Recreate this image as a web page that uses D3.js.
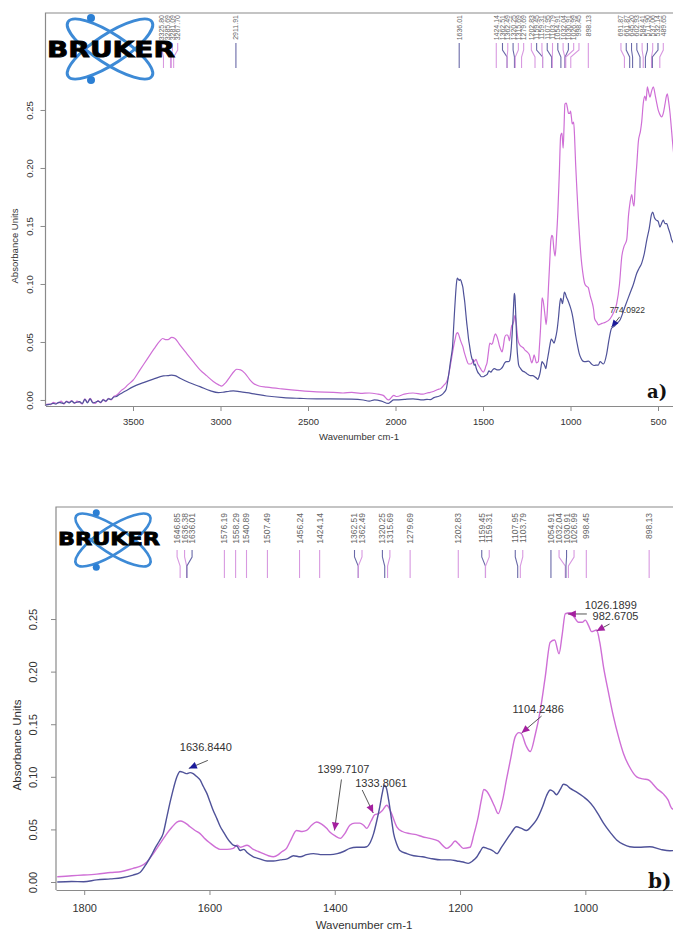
<!DOCTYPE html>
<html>
<head>
<meta charset="utf-8">
<script src="https://cdn.jsdelivr.net/npm/d3@7"></script>
<style>
  body { margin: 0; background: #fff; }
  svg { display: block; font-family: 'Liberation Sans', Arial, sans-serif; }
</style>
</head>
<body>
<div id="chart"></div>
<script>
// Spectrum data: [wavenumber cm-1, absorbance]
const pinkSpectrum = [
  [4000,-0.004],[3985,-0.0035],[3970,-0.004],[3955,-0.002],[3940,-0.003],[3925,-0.0025],[3910,-0.001],
  [3895,-0.0035],[3880,-0.001],[3865,-0.002],[3850,-0.0005],[3835,-0.003],[3820,-0.001],[3805,-0.002],
  [3790,-0.0035],[3775,0.001],[3760,-0.002],[3745,0.0015],[3730,-0.002],[3715,-0.003],[3700,-0.0005],
  [3685,-0.0025],[3670,0.0005],[3655,-0.0015],[3640,0.0015],[3625,0.000],[3610,0.003],[3595,0.004],
  [3580,0.006],[3565,0.0085],[3550,0.010],[3530,0.013],[3500,0.017],[3460,0.026],[3420,0.035],
  [3380,0.044],[3346,0.051],[3330,0.053],[3315,0.052],[3300,0.052],[3279,0.054],[3260,0.053],
  [3230,0.047],[3193,0.040],[3150,0.032],[3117,0.026],[3080,0.021],[3041,0.016],[3010,0.013],
  [2993,0.012],[2970,0.015],[2946,0.020],[2920,0.025],[2907,0.0265],[2885,0.026],[2860,0.023],
  [2835,0.018],[2813,0.0144],[2780,0.012],[2736,0.011],[2650,0.0095],[2546,0.008],[2450,0.007],
  [2355,0.0066],[2300,0.006],[2250,0.0065],[2200,0.0057],[2150,0.006],[2100,0.005],[2070,0.004],
  [2041,0.000],[2030,0.001],[2010,0.004],[1993,0.003],[1950,0.005],[1900,0.006],
  [1843,0.005],[1820,0.006],[1801,0.0066],[1780,0.0075],[1758,0.009],[1740,0.010],[1722,0.013],
  [1710,0.015],[1700,0.019],[1692,0.025],[1684,0.032],[1676,0.039],[1668,0.046],[1660,0.052],
  [1652,0.057],[1646,0.058],[1641,0.057],[1636,0.055],[1631,0.0525],[1623,0.049],[1615,0.046],
  [1607,0.041],[1599,0.037],[1590,0.033],[1583,0.031],[1572,0.031],[1562,0.032],[1556,0.035],
  [1550,0.033],[1540,0.035],[1530,0.031],[1522,0.029],[1514,0.027],[1506,0.025],[1498,0.024],
  [1490,0.026],[1484,0.029],[1477,0.032],[1470,0.040],[1461,0.049],[1452,0.048],[1445,0.049],
  [1437,0.054],[1429,0.057],[1421,0.055],[1413,0.051],[1407,0.047],[1400,0.044],[1391,0.0415],
  [1384,0.046],[1376,0.054],[1368,0.056],[1360,0.056],[1354,0.054],[1349,0.051],[1342,0.058],
  [1336,0.064],[1330,0.065],[1324,0.068],[1317,0.073],[1310,0.066],[1301,0.0525],[1292,0.048],
  [1280,0.046],[1270,0.045],[1260,0.043],[1248,0.0415],[1235,0.039],[1221,0.032],[1214,0.035],
  [1208,0.039],[1202,0.036],[1195,0.032],[1184,0.033],[1178,0.045],[1171,0.062],[1166,0.078],
  [1162,0.088],[1157,0.086],[1152,0.081],[1145,0.072],[1139,0.065],[1132,0.078],[1126,0.097],
  [1119,0.118],[1112,0.138],[1106,0.142],[1102,0.141],[1095,0.130],[1088,0.124],[1080,0.140],
  [1072,0.163],[1064,0.195],[1056,0.228],[1049,0.230],[1042,0.217],[1037,0.235],[1032,0.255],
  [1024,0.256],[1018,0.252],[1011,0.247],[1005,0.247],[1000,0.249],[995,0.244],[990,0.238],
  [982,0.2395],[977,0.228],[971,0.2045],[963,0.180],[955,0.157],[947,0.138],[939,0.122],
  [930,0.110],[918,0.100],[908,0.098],[899,0.097],[892,0.093],[886,0.089],[876,0.084],
  [868,0.078],[862,0.070],[850,0.067],[841,0.0647],[820,0.066],[800,0.067],[774,0.070],
  [755,0.075],[736,0.083],[720,0.100],[707,0.1235],[695,0.132],[679,0.138],[668,0.160],
  [660,0.170],[650,0.177],[643,0.170],[637,0.167],[630,0.185],[622,0.201],[612,0.223],
  [600,0.232],[593,0.240],[584,0.256],[575,0.262],[568,0.258],[561,0.270],[553,0.265],
  [546,0.261],[537,0.266],[527,0.270],[515,0.262],[506,0.255],[499,0.250],[489,0.246],
  [479,0.244],[470,0.247],[460,0.255],[452,0.262],[447,0.264],[440,0.258],[431,0.247],
  [424,0.235],[416,0.221],[405,0.205]
];

const blueSpectrum = [
  [4000,-0.0045],[3985,-0.004],[3970,-0.0035],[3955,-0.003],[3940,-0.0035],[3925,-0.002],[3910,-0.0025],
  [3895,-0.003],[3880,-0.0015],[3865,-0.0025],[3850,-0.001],[3835,-0.0025],[3820,-0.002],[3805,-0.0015],
  [3790,-0.003],[3775,0.0005],[3760,-0.0025],[3745,0.001],[3730,-0.0025],[3715,-0.002],[3700,-0.001],
  [3685,-0.002],[3670,0.000],[3655,-0.001],[3640,0.001],[3625,0.0005],[3610,0.0025],[3595,0.003],
  [3580,0.0045],[3565,0.0058],[3540,0.008],[3498,0.0115],[3440,0.015],[3384,0.018],[3327,0.0207],
  [3300,0.021],[3279,0.0215],[3260,0.021],[3231,0.0187],[3180,0.015],[3117,0.0115],[3060,0.008],
  [3012,0.0063],[2980,0.0068],[2950,0.0075],[2927,0.0078],[2890,0.0072],[2850,0.0063],[2800,0.005],
  [2736,0.0034],[2640,0.002],[2546,0.0014],[2450,0.001],[2374,0.001],[2250,0.0008],[2184,0.000],
  [2150,-0.001],[2120,0.000],[2080,-0.001],[2041,-0.003],[2030,-0.002],[2010,0.000],[1993,0.000],
  [1950,0.0005],[1900,0.001],
  [1843,0.000],[1820,0.0005],[1801,0.0003],[1780,0.002],[1758,0.003],[1740,0.004],[1722,0.0066],
  [1711,0.009],[1700,0.018],[1693,0.025],[1687,0.032],[1680,0.039],[1674,0.046],[1668,0.062],
  [1662,0.078],[1657,0.090],[1652,0.100],[1647,0.105],[1641,0.104],[1636,0.103],[1631,0.104],
  [1626,0.103],[1620,0.100],[1615,0.097],[1610,0.091],[1604,0.084],[1599,0.076],[1594,0.068],
  [1588,0.060],[1583,0.053],[1577,0.047],[1572,0.042],[1567,0.038],[1562,0.035],[1556,0.034],
  [1551,0.030],[1545,0.031],[1540,0.028],[1530,0.024],[1520,0.022],[1508,0.020],[1498,0.020],
  [1487,0.021],[1476,0.022],[1466,0.025],[1455,0.024],[1445,0.026],[1434,0.027],[1420,0.026],
  [1407,0.026],[1396,0.027],[1386,0.029],[1376,0.032],[1365,0.033],[1356,0.033],[1349,0.0335],
  [1343,0.038],[1338,0.046],[1333,0.058],[1328,0.072],[1324,0.085],[1321,0.092],[1318,0.090],
  [1314,0.078],[1310,0.062],[1306,0.046],[1301,0.036],[1296,0.030],[1285,0.027],[1274,0.025],
  [1260,0.024],[1248,0.0225],[1230,0.021],[1215,0.021],[1205,0.020],[1195,0.019],[1187,0.0177],
  [1180,0.020],[1173,0.024],[1168,0.029],[1163,0.033],[1157,0.032],[1152,0.031],[1146,0.029],
  [1141,0.027],[1134,0.033],[1126,0.040],[1118,0.047],[1110,0.0525],[1102,0.051],[1094,0.049],
  [1086,0.053],[1078,0.059],[1068,0.072],[1062,0.082],[1056,0.0875],[1051,0.086],[1046,0.083],
  [1040,0.088],[1035,0.093],[1030,0.092],[1024,0.089],[1015,0.086],[1003,0.081],[995,0.077],
  [987,0.0715],[979,0.064],[971,0.056],[960,0.047],[950,0.040],[940,0.036],[929,0.0335],
  [915,0.033],[897,0.0335],[880,0.031],[865,0.0297],[855,0.030],[841,0.030],[831,0.033],
  [812,0.031],[793,0.040],[780,0.052],[765,0.062],[755,0.063],[735,0.066],[717,0.069],
  [690,0.080],[660,0.092],[640,0.100],[622,0.109],[610,0.113],[593,0.118],[580,0.125],
  [564,0.138],[550,0.148],[537,0.160],[530,0.162],[520,0.157],[510,0.155],[499,0.154],
  [489,0.149],[480,0.152],[470,0.155],[460,0.152],[450,0.152],[441,0.148],[430,0.143],
  [422,0.138],[414,0.136],[405,0.132]
];

// Axis ticks
const xTicksA = [3500, 3000, 2500, 2000, 1500, 1000, 500];
const xTicksB = [1800, 1600, 1400, 1200, 1000];
const yTicks = [0, 0.05, 0.10, 0.15, 0.20, 0.25];

// Peak picks: [wavenumber, series]
const peaksA = [
  [3325.80,'p'],[3285.69,'p'],[3281.09,'p'],[3267.70,'p'],[2911.91,'b'],[1636.01,'b'],[1424.14,'p'],
  [1362.51,'b'],[1362.49,'p'],[1320.25,'b'],[1315.69,'p'],[1279.69,'p'],[1202.83,'p'],[1159.45,'b'],
  [1159.31,'p'],[1107.95,'b'],[1103.79,'p'],[1054.91,'b'],[1032.04,'p'],[1030.91,'b'],[1026.99,'p'],
  [998.45,'p'],[898.13,'p'],
  [691.87,'p'],[661.87,'b'],[645.20,'b'],[602.93,'b'],[584.41,'p'],[571.90,'b'],[537.06,'p'],
  [532.14,'b'],[489.65,'p']
];
const peaksB = [
  [1646.85,'p'],[1636.38,'p'],[1636.01,'b'],[1576.19,'p'],[1558.29,'p'],[1540.89,'p'],[1507.49,'p'],
  [1456.24,'p'],[1424.14,'p'],[1362.51,'b'],[1362.49,'p'],[1320.25,'b'],[1315.69,'p'],[1279.69,'p'],
  [1202.83,'p'],[1159.45,'b'],[1159.31,'p'],[1107.95,'b'],[1103.79,'p'],[1054.91,'b'],[1032.04,'p'],
  [1030.91,'b'],[1026.99,'p'],[998.45,'p'],[898.13,'p']
];

// Annotated points: [label, wavenumber, absorbance, series]
const notesA = [['774.0922', 765, 0.063, 'b']];
const notesB = [
  ['1636.8440', 1633, 0.108, 'b'],
  ['1399.7107', 1400.5, 0.049, 'p'],
  ['1333.8061', 1338.6, 0.0656, 'p'],
  ['1104.2486', 1101.8, 0.1416, 'p'],
  ['1026.1899', 1027.9, 0.2548, 'p'],
  ['982.6705', 982.1, 0.2386, 'p']
];

// Where each annotation label sits relative to its arrow tip: text start, line start
const noteLayout = {
  '774.0922':  { tx: -2, ty: -14, lx: 8, ly: -10 },
  '1636.8440': { tx: -9, ty: -17, lx: 19, ly: -8 },
  '1399.7107': { tx: -17, ty: -57, lx: 7, ly: -51 },
  '1333.8061': { tx: -18, ty: -26, lx: -11, ly: -23 },
  '1104.2486': { tx: -9, ty: -20, lx: 20, ly: -17 },
  '1026.1899': { tx: 17, ty: -5, lx: 19, ly: 0 },
  '982.6705':  { tx: -4, ty: -11, lx: 13, ly: -7 }
};

const colors = { p: '#cf6fd6', b: '#4f5299' };
const arrowColors = { p: '#a4209f', b: '#1c1c9a' };
const peakLineColors = { p: '#d899e0', b: '#6a6aa8' };

const W = 673, H = 935;
const svg = d3.select('#chart').append('svg').attr('width', W).attr('height', H);

function spread(xs, gap) {
  const p = xs.slice();
  for (let it = 0; it < 300; it++) {
    let moved = false;
    for (let i = 1; i < p.length; i++) {
      const d = p[i] - p[i - 1];
      if (d < gap - 0.01) {
        const s = (gap - d) / 2;
        p[i - 1] -= s; p[i] += s; moved = true;
      }
    }
    if (!moved) break;
  }
  return p;
}

function drawLogo(g, cx, cy, s, fontSize, textX, textY, textLen) {
  const logo = g.append('g');
  [33, -33].forEach(a => {
    logo.append('ellipse')
      .attr('cx', cx).attr('cy', cy).attr('rx', 50 * s).attr('ry', 15 * s)
      .attr('transform', `rotate(${a},${cx},${cy})`)
      .attr('fill', 'none').attr('stroke', '#3d8ad6').attr('stroke-width', 3 * s);
  });
  [-1, 1].forEach(k => {
    logo.append('circle')
      .attr('cx', cx - 19 * s).attr('cy', cy + k * 31 * s).attr('r', 4 * s)
      .attr('fill', '#2b7fd4');
  });
  logo.append('text')
    .attr('x', textX).attr('y', textY)
    .style('font-family', "'DejaVu Sans', sans-serif")
    .style('font-weight', 'bold').style('font-size', fontSize + 'px')
    .attr('textLength', textLen).attr('lengthAdjust', 'spacingAndGlyphs')
    .attr('stroke', '#000').attr('stroke-width', 0.8)
    .attr('fill', '#000').text('BRUKER');
}

function drawPanel(cfg) {
  const g = svg.append('g');
  const x = d3.scaleLinear().domain(cfg.xDomain).range(cfg.xRange);
  const y = d3.scaleLinear().domain(cfg.yDomain).range(cfg.yRange);
  const left = cfg.xRange[0], top = cfg.yRange[1], bottom = cfg.yRange[0];

  const clipId = 'clip-' + cfg.id;
  svg.append('defs').append('clipPath').attr('id', clipId)
    .append('rect').attr('x', left).attr('y', top)
    .attr('width', W - left + 10).attr('height', bottom - top);

  // Frame (top + left; bottom comes from the axis)
  g.append('path')
    .attr('d', `M${W + 5},${top}H${left}V${bottom}`)
    .attr('fill', 'none').attr('stroke', '#8a8a8a').attr('stroke-width', 1.2);

  // X axis
  const xAxis = g.append('g').attr('transform', `translate(0,${bottom})`)
    .call(d3.axisBottom(x).tickValues(cfg.xTicks).tickFormat(d3.format('d'))
      .tickSize(5).tickSizeOuter(0).tickPadding(cfg.xPad));
  xAxis.select('.domain').attr('stroke', '#8a8a8a').attr('stroke-width', 1.2);
  xAxis.selectAll('.tick line').attr('stroke', '#8a8a8a');
  xAxis.selectAll('.tick text').attr('fill', '#333').attr('font-size', cfg.tickFont)
    .attr('font-family', "'Liberation Sans', Arial, sans-serif");

  // Y axis with rotated labels
  const yAxis = g.append('g').attr('transform', `translate(${left},0)`)
    .call(d3.axisLeft(y).tickValues(yTicks).tickFormat(d3.format('.2f')).tickSize(5).tickSizeOuter(0));
  yAxis.select('.domain').remove();
  yAxis.selectAll('.tick line').attr('stroke', '#8a8a8a');
  yAxis.selectAll('.tick text')
    .attr('x', 0).attr('dy', 0).attr('text-anchor', 'middle')
    .attr('transform', `translate(${-cfg.yPad},0) rotate(-90)`)
    .attr('fill', '#333').attr('font-size', cfg.tickFont)
    .attr('font-family', "'Liberation Sans', Arial, sans-serif");

  // Axis titles
  g.append('text')
    .attr('x', cfg.xTitle[0]).attr('y', cfg.xTitle[1])
    .attr('text-anchor', 'middle').attr('font-size', cfg.titleFont).attr('fill', '#333')
    .text('Wavenumber cm-1');
  g.append('text')
    .attr('transform', `translate(${cfg.yTitle[0]},${cfg.yTitle[1]}) rotate(-90)`)
    .attr('text-anchor', 'middle').attr('font-size', cfg.titleFont).attr('fill', '#333')
    .text('Absorbance Units');

  // Spectra
  const plot = g.append('g').attr('clip-path', `url(#${clipId})`);
  const line = d3.line().x(d => x(d[0])).y(d => y(d[1])).curve(d3.curveMonotoneX);
  const inRange = d => d[0] <= cfg.xDomain[0] + 5 && d[0] >= cfg.xDomain[1] - 20;
  [['p', pinkSpectrum], ['b', blueSpectrum]].forEach(([k, data]) => {
    plot.append('path')
      .datum(data.filter(inRange))
      .attr('d', line)
      .attr('fill', 'none').attr('stroke', colors[k]).attr('stroke-width', cfg.lineWidth);
  });

  // Peak pick labels along the top
  const px = cfg.peaks.map(p => x(p[0]));
  const tx = spread(px, cfg.peakGap);
  const [yText, y0, y1, y2, y3] = cfg.peakY;
  const peakG = g.append('g').attr('clip-path', `url(#${clipId})`);
  cfg.peaks.forEach((p, i) => {
    peakG.append('path')
      .attr('d', d3.line()([[tx[i], y0], [tx[i], y1], [px[i], y2], [px[i], y3]]))
      .attr('fill', 'none').attr('stroke', peakLineColors[p[1]]).attr('stroke-width', 1.1);
    peakG.append('text')
      .attr('transform', `translate(${tx[i] + cfg.peakFont * 0.35},${yText}) rotate(-90)`)
      .attr('text-anchor', 'end').attr('font-size', cfg.peakFont).attr('fill', '#666')
      .text(p[0].toFixed(2));
  });

  drawLogo(g, ...cfg.logo);

  // Annotated peaks with arrows
  cfg.notes.forEach(([label, wn, val, k]) => {
    const lay = noteLayout[label];
    const ax = x(wn), ay = y(val);
    const sx = ax + lay.lx, sy = ay + lay.ly;
    g.append('line').attr('x1', sx).attr('y1', sy).attr('x2', ax).attr('y2', ay)
      .attr('stroke', '#444').attr('stroke-width', 0.9);
    const ang = Math.atan2(ay - sy, ax - sx);
    const L = cfg.arrow, Wd = cfg.arrow * 0.45;
    const tri = [
      [ax, ay],
      [ax - L * Math.cos(ang) + Wd * Math.sin(ang), ay - L * Math.sin(ang) - Wd * Math.cos(ang)],
      [ax - L * Math.cos(ang) - Wd * Math.sin(ang), ay - L * Math.sin(ang) + Wd * Math.cos(ang)]
    ];
    g.append('path').attr('d', d3.line()(tri) + 'Z').attr('fill', arrowColors[k]);
    g.append('text').attr('x', ax + lay.tx).attr('y', ay + lay.ty)
      .attr('font-size', cfg.noteFont).attr('fill', '#333').text(label);
  });

  // Panel letter
  g.append('text')
    .attr('x', cfg.letter[0]).attr('y', cfg.letter[1])
    .style('font-family', "'DejaVu Serif', 'Liberation Serif', serif")
    .style('font-weight', 'bold').style('font-size', cfg.letter[3] + 'px').attr('fill', '#111')
    .text(cfg.letter[2]);
}

drawPanel({
  id: 'a',
  xDomain: [4000, 400], xRange: [45.5, 675.5],
  yDomain: [-0.0052, 0.3336], yRange: [406, 13],
  xTicks: xTicksA, xPad: 7, yPad: 13, tickFont: 9.5,
  xTitle: [359, 440], yTitle: [18, 246], titleFont: 9.5,
  lineWidth: 1.2,
  peaks: peaksA, peakGap: 5.3, peakFont: 7, peakY: [15, 43, 50, 57, 68],
  logo: [110, 49, 1, 22, 47, 57, 128],
  notes: notesA, noteFont: 8.5, arrow: 7,
  letter: [647, 398, 'a)', 18]
});

drawPanel({
  id: 'b',
  xDomain: [1845, 850], xRange: [56, 679.3],
  yDomain: [-0.0076, 0.3565], yRange: [890, 507],
  xTicks: xTicksB, xPad: 9, yPad: 19, tickFont: 11,
  xTitle: [364, 929], yTitle: [21, 745], titleFont: 11.5,
  lineWidth: 1.4,
  peaks: peaksB, peakGap: 7.5, peakFont: 8.5, peakY: [513, 550, 557, 566, 578],
  logo: [113, 540, 0.88, 18, 58, 545, 102],
  notes: notesB, noteFont: 11, arrow: 8,
  letter: [648, 888, 'b)', 20]
});
</script>
</body>
</html>
